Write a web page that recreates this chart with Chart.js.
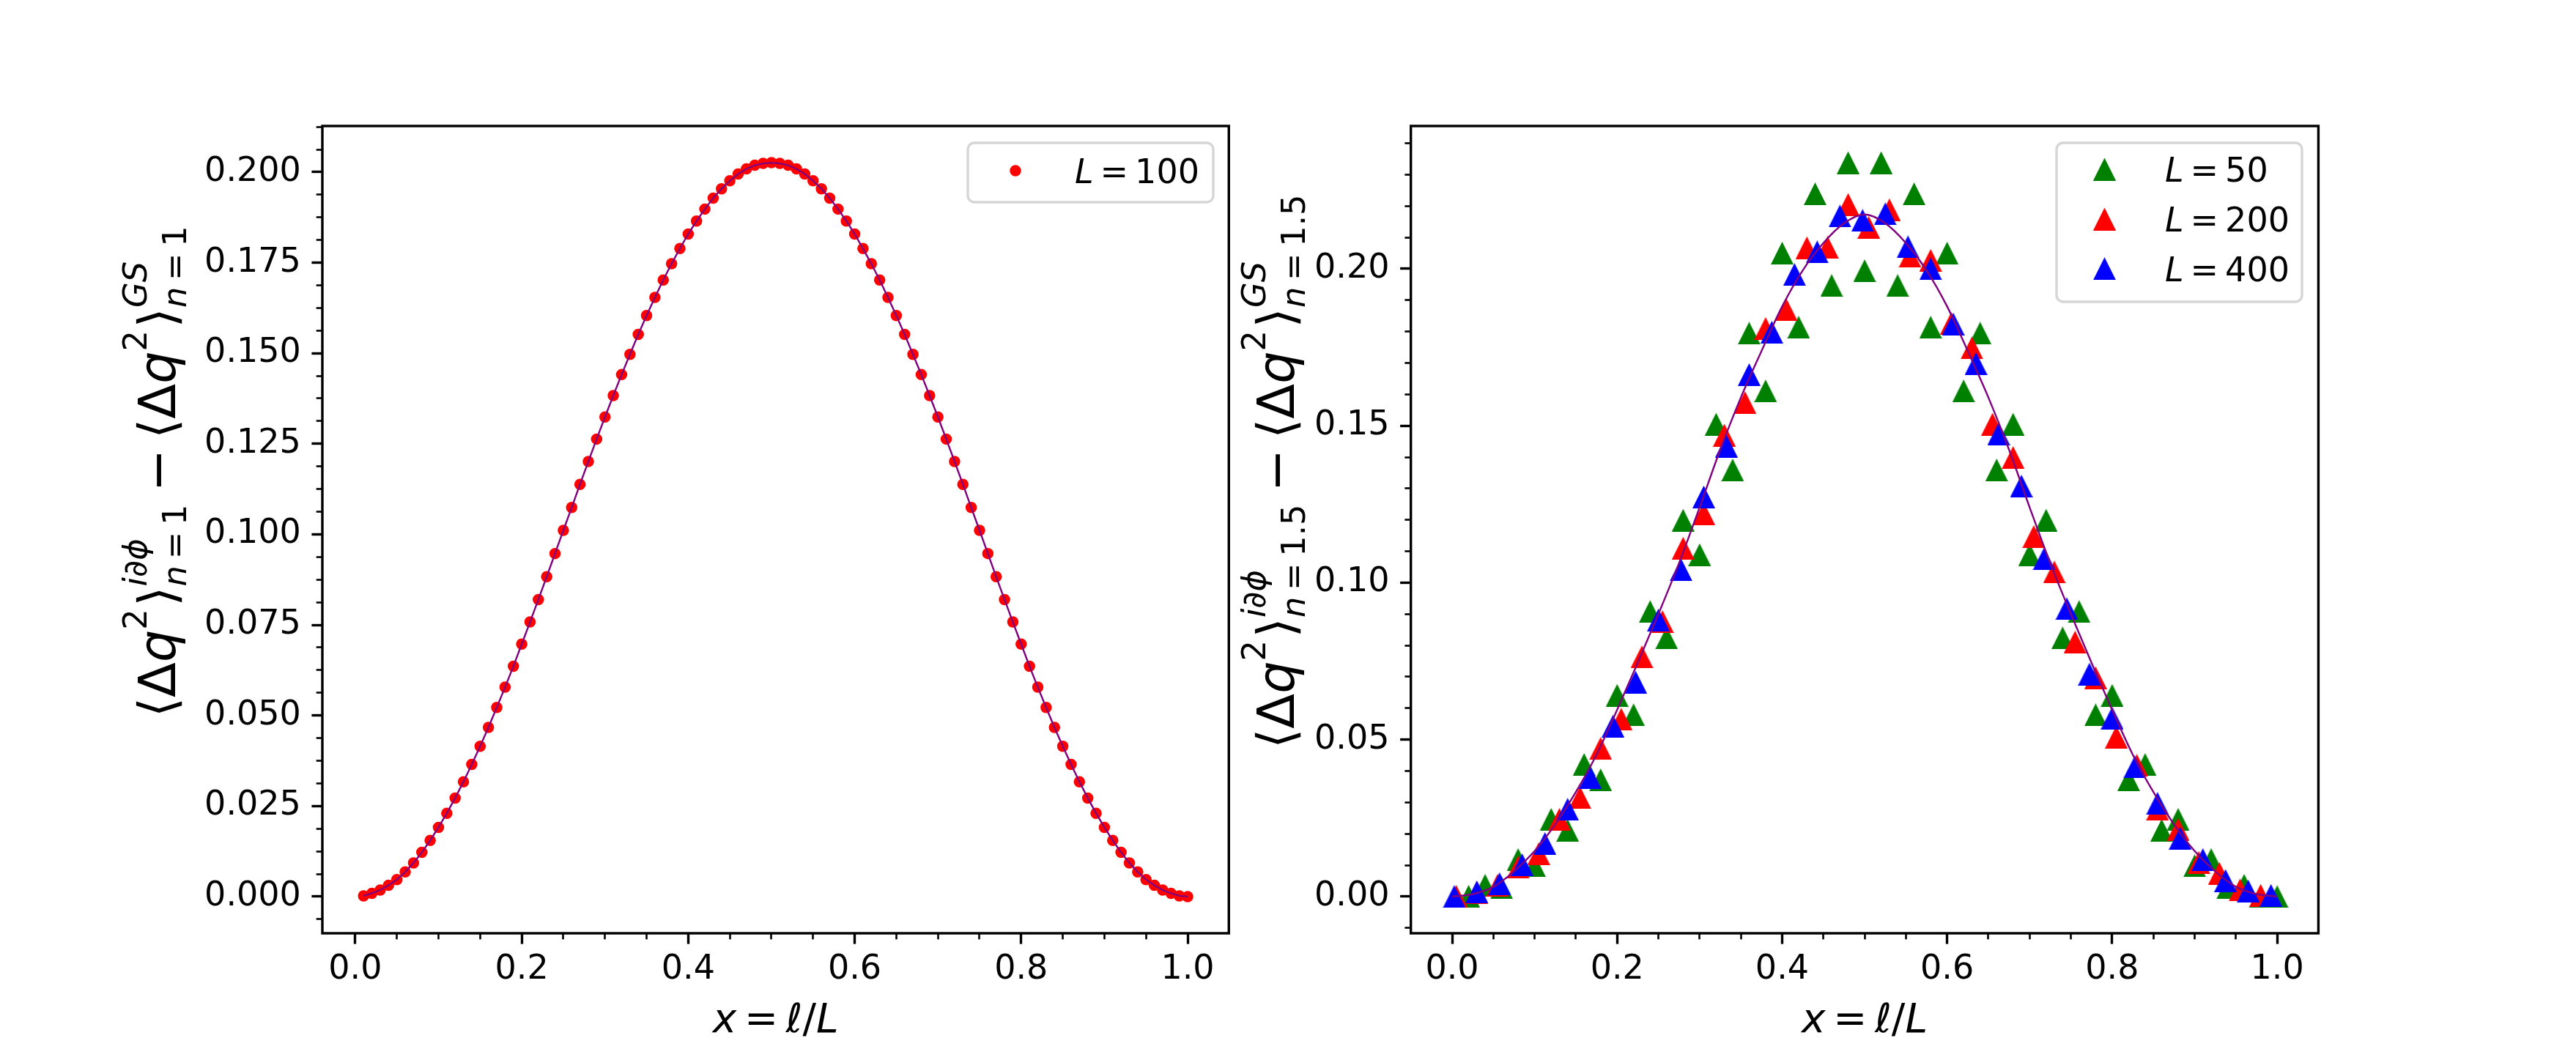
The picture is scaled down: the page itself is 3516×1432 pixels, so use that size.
<!DOCTYPE html>
<html><head><meta charset="utf-8"><title>charge fluctuations</title>
<script src="https://cdn.jsdelivr.net/npm/chart.js@4.4.1/dist/chart.umd.min.js"></script>
<style>
html,body{margin:0;padding:0;background:#fff;overflow:hidden}
#wrap{position:relative;width:3516px;height:1432px;background:#fff}
canvas{position:absolute;top:0}
</style></head><body><div id="wrap">
<canvas id="c1" style="left:0px;width:1685px;height:1432px" width="1685" height="1432"></canvas>
<canvas id="c2" style="left:1685px;width:1831px;height:1432px" width="1831" height="1432"></canvas>
</div><script>
// ---------------- data ----------------
const xL100 = [0.01,0.02,0.03,0.04,0.05,0.06,0.07,0.08,0.09,0.10,0.11,0.12,0.13,0.14,0.15,0.16,0.17,0.18,0.19,0.20,
  0.21,0.22,0.23,0.24,0.25,0.26,0.27,0.28,0.29,0.30,0.31,0.32,0.33,0.34,0.35,0.36,0.37,0.38,0.39,0.40,
  0.41,0.42,0.43,0.44,0.45,0.46,0.47,0.48,0.49,0.50,0.51,0.52,0.53,0.54,0.55,0.56,0.57,0.58,0.59,0.60,
  0.61,0.62,0.63,0.64,0.65,0.66,0.67,0.68,0.69,0.70,0.71,0.72,0.73,0.74,0.75,0.76,0.77,0.78,0.79,0.80,
  0.81,0.82,0.83,0.84,0.85,0.86,0.87,0.88,0.89,0.90,0.91,0.92,0.93,0.94,0.95,0.96,0.97,0.98,0.99,1.00];
const yL100 = [0.0002,0.0009,0.0018,0.0031,0.0047,0.0068,0.0093,0.0122,0.0155,0.0191,
  0.0230,0.0272,0.0317,0.0365,0.0415,0.0467,0.0522,0.0578,0.0636,0.0697,
  0.0758,0.0820,0.0883,0.0947,0.1011,0.1074,0.1138,0.1201,0.1263,0.1324,
  0.1383,0.1441,0.1497,0.1552,0.1604,0.1654,0.1702,0.1747,0.1789,0.1829,
  0.1865,0.1898,0.1928,0.1954,0.1976,0.1995,0.2009,0.2019,0.2024,0.2026,
  0.2024,0.2019,0.2009,0.1995,0.1976,0.1954,0.1928,0.1898,0.1865,0.1829,
  0.1789,0.1747,0.1702,0.1654,0.1604,0.1552,0.1497,0.1441,0.1383,0.1324,
  0.1263,0.1201,0.1138,0.1074,0.1011,0.0947,0.0883,0.0820,0.0758,0.0697,
  0.0636,0.0578,0.0522,0.0467,0.0415,0.0365,0.0317,0.0272,0.0230,0.0191,
  0.0155,0.0122,0.0093,0.0068,0.0047,0.0031,0.0018,0.0009,0.0002,0.0000];

const xL50 = [0.02,0.04,0.06,0.08,0.10,0.12,0.14,0.16,0.18,0.20,0.22,0.24,0.26,0.28,0.30,0.32,0.34,0.36,0.38,0.40,
  0.42,0.44,0.46,0.48,0.50,0.52,0.54,0.56,0.58,0.60,0.62,0.64,0.66,0.68,0.70,0.72,0.74,0.76,0.78,0.80,
  0.82,0.84,0.86,0.88,0.90,0.92,0.94,0.96,0.98,1.00];
const yL50 = [0.0001,0.0036,0.0028,0.0118,0.0098,0.0246,0.0211,0.0421,0.0372,0.0641,
  0.0579,0.0908,0.0824,0.1199,0.1089,0.1505,0.1359,0.1795,0.1611,0.2050,
  0.1814,0.2239,0.1947,0.2338,0.1994,0.2338,0.1947,0.2239,0.1814,0.2050,
  0.1611,0.1795,0.1359,0.1505,0.1089,0.1199,0.0824,0.0908,0.0579,0.0641,
  0.0372,0.0421,0.0211,0.0246,0.0098,0.0118,0.0028,0.0036,0.0001,0.0000];

const xL200 = [0.005,0.03,0.055,0.08,0.105,0.13,0.155,0.18,0.205,0.23,0.255,0.28,0.305,0.33,0.355,0.38,0.405,0.43,0.455,0.48,
  0.505,0.53,0.555,0.58,0.605,0.63,0.655,0.68,0.705,0.73,0.755,0.78,0.805,0.83,0.855,0.88,0.905,0.93,0.955,0.98];
const yL200 = [0.0001,0.0013,0.0036,0.0094,0.0137,0.0246,0.0315,0.0472,0.0565,0.0764,
  0.0876,0.1110,0.1220,0.1470,0.1574,0.1810,0.1870,0.2067,0.2068,0.2205,
  0.2132,0.2188,0.2040,0.2027,0.1826,0.1748,0.1505,0.1399,0.1147,0.1034,
  0.0811,0.0697,0.0508,0.0418,0.0279,0.0214,0.0109,0.0074,0.0021,0.0004];

const xL400 = [0.0025,0.03,0.0575,0.085,0.1125,0.14,0.1675,0.195,0.2225,0.25,0.2775,0.305,0.3325,0.36,0.3875,0.415,0.4425,0.47,0.4975,
  0.525,0.5525,0.58,0.6075,0.635,0.6625,0.69,0.7175,0.745,0.7725,0.8,0.8275,0.855,0.8825,0.91,0.9375,0.965,0.9925];
const yL400 = [0.0000,0.0015,0.0041,0.0101,0.0169,0.0278,0.0379,0.0543,0.0683,0.0881,
  0.1041,0.1273,0.1435,0.1663,0.1798,0.1982,0.2054,0.2168,0.2154,0.2175,
  0.2070,0.2000,0.1824,0.1698,0.1474,0.1308,0.1076,0.0917,0.0709,0.0569,
  0.0413,0.0297,0.0186,0.0118,0.0051,0.0018,0.0004];

const xTheory = [0,0.025,0.05,0.075,0.1,0.125,0.15,0.175,0.2,0.225,0.25,0.275,0.3,0.325,0.35,0.375,0.4,0.425,0.45,0.475,
  0.5,0.525,0.55,0.575,0.6,0.625,0.65,0.675,0.7,0.725,0.75,0.775,0.8,0.825,0.85,0.875,0.9,0.925,0.95,0.975,1.0];
const yTheory = [0.0000,0.0008,0.0031,0.0080,0.0145,0.0230,0.0333,0.0452,0.0595,0.0745,
  0.0900,0.1062,0.1240,0.1424,0.1590,0.1738,0.1880,0.1995,0.2082,0.2145,
  0.2173,0.2145,0.2082,0.1995,0.1880,0.1738,0.1590,0.1424,0.1240,0.1062,
  0.0900,0.0745,0.0595,0.0452,0.0333,0.0230,0.0145,0.0080,0.0031,0.0008,0.0000];

// tick values / labels
const xTicks = [0,0.2,0.4,0.6,0.8,1.0];
const xTickLabels = ['0.0','0.2','0.4','0.6','0.8','1.0'];
const xMinor = [0.05,0.1,0.15,0.25,0.3,0.35,0.45,0.5,0.55,0.65,0.7,0.75,0.85,0.9,0.95];
const leftYTicks = [0,0.025,0.05,0.075,0.1,0.125,0.15,0.175,0.2];
const leftYTickLabels = ['0.000','0.025','0.050','0.075','0.100','0.125','0.150','0.175','0.200'];
const leftYMinor = [-0.00625,0.00625,0.0125,0.01875,0.03125,0.0375,0.04375,0.05625,0.0625,0.06875,0.08125,0.0875,0.09375,
  0.10625,0.1125,0.11875,0.13125,0.1375,0.14375,0.15625,0.1625,0.16875,0.18125,0.1875,0.19375,0.20625,0.2125];
const rightYTicks = [0,0.05,0.1,0.15,0.2];
const rightYTickLabels = ['0.00','0.05','0.10','0.15','0.20'];
const rightYMinor = [-0.01,0.01,0.02,0.03,0.04,0.06,0.07,0.08,0.09,0.11,0.12,0.13,0.14,0.16,0.17,0.18,0.19,0.21,0.22,0.23,0.24];

// text
const yLabelLeft = [['⟨',0],['Δ',0],['q',1],{sup:[['2',0]]},['⟩',0],{sup:[['i',1],['∂',1],['ϕ',1]],sub:[['n',1],' ',['=',0],' ',['1',0]]},
  ' ',['−',0],' ',['⟨',0],['Δ',0],['q',1],{sup:[['2',0]]},['⟩',0],{sup:[['G',1],['S',1]],sub:[['n',1],' ',['=',0],' ',['1',0]]}];
const yLabelRight = [['⟨',0],['Δ',0],['q',1],{sup:[['2',0]]},['⟩',0],{sup:[['i',1],['∂',1],['ϕ',1]],sub:[['n',1],' ',['=',0],' ',['1.5',0]]},
  ' ',['−',0],' ',['⟨',0],['Δ',0],['q',1],{sup:[['2',0]]},['⟩',0],{sup:[['G',1],['S',1]],sub:[['n',1],' ',['=',0],' ',['1.5',0]]}];
const xLabel = [['x',1],' ',['=',0],' ',['ℓ',0],['/',0],['L',1]];
const legendLeft = [{label:[['L',1],' ',['=',0],' ',['100',0]], color:'#ff0000', marker:'circle'}];
const legendRight = [
  {label:[['L',1],' ',['=',0],' ',['50',0]], color:'#008000', marker:'tri'},
  {label:[['L',1],' ',['=',0],' ',['200',0]], color:'#ff0000', marker:'tri'},
  {label:[['L',1],' ',['=',0],' ',['400',0]], color:'#0000ff', marker:'tri'}];

// ---------------- helpers ----------------
const FONT = '"DejaVu Sans"';
const H = 1432;
const TICK_FONT = 46;
function fontStr(px, it){ return (it ? 'italic ' : '') + px + 'px ' + FONT; }
function layoutMath(ctx, tokens, F, scr){
  const runs = []; let x = 0;
  function place(list, sz, dy, x0){
    let xx = x0;
    for (const tk of list){
      if (tk === ' '){ xx += 0.195*sz; continue; }
      const f = fontStr(sz, tk[1]); ctx.font = f;
      runs.push({s: tk[0], f, x: xx, dy});
      xx += ctx.measureText(tk[0]).width;
    }
    return xx - x0;
  }
  for (const tk of tokens){
    if (tk === ' ') x += 0.195*F;
    else if (Array.isArray(tk)) x += place([tk], F, 0, x);
    else {
      const s = scr*F; let w = 0;
      if (tk.sup) w = Math.max(w, place(tk.sup, s, 0.56*F, x));
      if (tk.sub) w = Math.max(w, place(tk.sub, s, -0.22*F, x));
      x += w + 0.05*F;
    }
  }
  return {runs, width: x};
}
function drawMath(ctx, tokens, F, px, py, rotate, align, scr){
  const L = layoutMath(ctx, tokens, F, scr || 0.7);
  ctx.save();
  ctx.translate(px, py);
  if (rotate) ctx.rotate(-Math.PI/2);
  ctx.fillStyle = '#000'; ctx.textBaseline = 'alphabetic'; ctx.textAlign = 'left';
  const x0 = align === 'left' ? 0 : -L.width/2;
  for (const r of L.runs){ ctx.font = r.f; ctx.fillText(r.s, x0 + r.x, -r.dy); }
  ctx.restore();
}
function triImg(color, s){
  const c = document.createElement('canvas'); c.width = s; c.height = s;
  const g = c.getContext('2d'); g.fillStyle = color;
  g.beginPath(); g.moveTo(s/2, 0); g.lineTo(s, s); g.lineTo(0, s); g.closePath(); g.fill();
  return c;
}
const TRI = 31;
const triGreen = triImg('#008000', TRI), triRed = triImg('#ff0000', TRI), triBlue = triImg('#0000ff', TRI);
const triFor = {'#008000': triGreen, '#ff0000': triRed, '#0000ff': triBlue};
function pts(xs, ys){ return xs.map((x, i) => ({x, y: ys[i]})); }

function overlay(cfg){
  return {
    id: 'overlay' + cfg.id,
    afterDraw(chart){
      const ctx = chart.ctx, a = chart.chartArea;
      // frame (spines)
      ctx.save(); ctx.strokeStyle = '#000'; ctx.lineWidth = 3.4;
      ctx.strokeRect(a.left, a.top, a.right - a.left, a.bottom - a.top); ctx.restore();
      // legend
      const lg = cfg.legend;
      ctx.save();
      ctx.beginPath(); ctx.roundRect(lg.box[0], lg.box[1], lg.box[2]-lg.box[0], lg.box[3]-lg.box[1], 9);
      ctx.fillStyle = 'rgba(255,255,255,0.8)'; ctx.fill();
      ctx.strokeStyle = '#d6d6d6'; ctx.lineWidth = 3.4; ctx.stroke();
      ctx.restore();
      lg.items.forEach((it, i) => {
        const cy = lg.rows[i];
        ctx.save();
        if (it.marker === 'circle'){
          ctx.fillStyle = it.color; ctx.beginPath(); ctx.arc(lg.mx, cy, 7.75, 0, Math.PI*2); ctx.fill();
        } else {
          const im = triFor[it.color]; ctx.drawImage(im, lg.mx - TRI/2, cy - TRI/2);
        }
        ctx.restore();
        drawMath(ctx, it.label, TICK_FONT, lg.tx, cy + 17, false, 'left');
      });
      // axis labels
      drawMath(ctx, xLabel, 55, (a.left + a.right)/2, 1409, false, 'center');
      drawMath(ctx, cfg.ylabel, 70, cfg.ylabelX, 642, true, 'center', 0.64);
    }
  };
}

function makeChart(canvasId, W, area, datasets, xr, yr, yTicks, yTickLabels, yMinor, plugin){
  const tickFont = {family: 'DejaVu Sans', size: TICK_FONT};
  const majorGrid = {drawOnChartArea: false, drawTicks: true, tickLength: 14.6, tickColor: '#000', tickWidth: 3.4, color: 'rgba(0,0,0,0)'};
  const minorGrid = {drawOnChartArea: false, drawTicks: true, tickLength: 8.3, tickColor: '#000', tickWidth: 2.6, color: 'rgba(0,0,0,0)'};
  return new Chart(document.getElementById(canvasId), {
    type: 'scatter',
    data: {datasets},
    options: {
      responsive: false, animation: false, devicePixelRatio: 1,
      events: [],
      layout: {padding: {left: 0, top: area.top, right: W - area.right, bottom: 0}},
      plugins: {legend: {display: false}, tooltip: {enabled: false}},
      scales: {
        x: {type: 'linear', position: 'bottom', weight: 1, min: xr[0], max: xr[1],
            afterBuildTicks: s => { s.ticks = xTicks.map(v => ({value: v})); },
            afterFit: s => { s.height = H - area.bottom; },
            ticks: {autoSkip: false, maxRotation: 0, minRotation: 0, padding: 8, color: '#000', font: tickFont,
                    callback: (v, i) => xTickLabels[i]},
            grid: majorGrid, border: {display: false}},
        xm: {type: 'linear', position: 'bottom', weight: 0, min: xr[0], max: xr[1],
            afterBuildTicks: s => { s.ticks = xMinor.map(v => ({value: v})); },
            afterFit: s => { s.height = 0; },
            ticks: {display: false, autoSkip: false},
            grid: minorGrid, border: {display: false}},
        y: {type: 'linear', position: 'left', weight: 1, min: yr[0], max: yr[1],
            afterBuildTicks: s => { s.ticks = yTicks.map(v => ({value: v})); },
            afterFit: s => { s.width = area.left; },
            ticks: {autoSkip: false, padding: 14.6, color: '#000', font: tickFont,
                    callback: (v, i) => yTickLabels[i]},
            grid: majorGrid, border: {display: false}},
        ym: {type: 'linear', position: 'left', weight: 0, min: yr[0], max: yr[1],
            afterBuildTicks: s => { s.ticks = yMinor.map(v => ({value: v})); },
            afterFit: s => { s.width = 0; },
            ticks: {display: false, autoSkip: false},
            grid: minorGrid, border: {display: false}}
      }
    },
    plugins: [plugin]
  });
}

// ---------------- left panel ----------------
const area1 = {left: 440, right: 1679, top: 172, bottom: 1274};
makeChart('c1', 1685, area1, [
  {label: 'theory', data: pts(xL100, yL100), showLine: true, borderColor: '#800080', borderWidth: 2.4,
   pointRadius: 0, fill: false, order: 0},
  {label: 'L = 100', data: pts(xL100, yL100), showLine: false, backgroundColor: '#ff0000', borderColor: '#ff0000',
   borderWidth: 0, pointRadius: 7.75, pointStyle: 'circle', order: 1}
], [-0.0395, 1.0495], [-0.01013, 0.21273], leftYTicks, leftYTickLabels, leftYMinor,
overlay({id: 1, ylabel: yLabelLeft, ylabelX: 239,
  legend: {box: [1321, 195, 1656, 276], rows: [233], mx: 1386, tx: 1467, items: legendLeft}}));

// ---------------- right panel (canvas offset 1685) ----------------
const area2 = {left: 240.7, right: 1479.4, top: 172, bottom: 1274};
makeChart('c2', 1831, area2, [
  {label: 'theory', data: pts(xTheory, yTheory), showLine: true, borderColor: '#800080', borderWidth: 2.4,
   pointRadius: 0, fill: false, cubicInterpolationMode: 'monotone', order: 0},
  {label: 'L = 400', data: pts(xL400, yL400), showLine: false, pointStyle: triBlue, pointRadius: 15, order: 1},
  {label: 'L = 200', data: pts(xL200, yL200), showLine: false, pointStyle: triRed, pointRadius: 15, order: 2},
  {label: 'L = 50', data: pts(xL50, yL50), showLine: false, pointStyle: triGreen, pointRadius: 15, order: 3}
], [-0.05, 1.05], [-0.01169, 0.24549], rightYTicks, rightYTickLabels, rightYMinor,
overlay({id: 2, ylabel: yLabelRight, ylabelX: 81,
  legend: {box: [1122, 195, 1457, 412], rows: [231, 299, 366.7], mx: 1187.5, tx: 1270, items: legendRight}}));
</script></body></html>
